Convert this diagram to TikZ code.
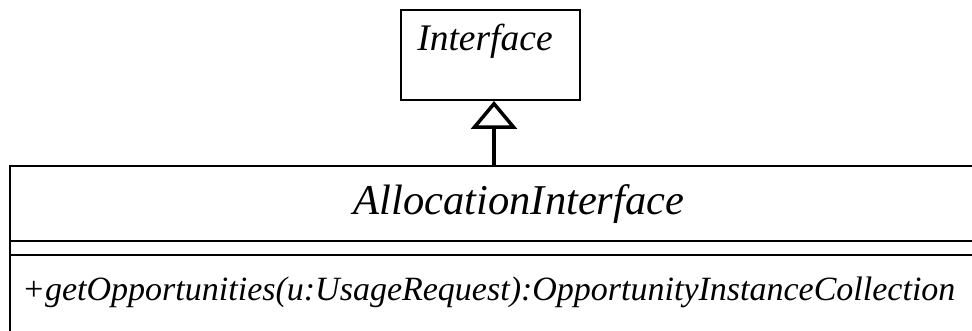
\documentclass[tikz,border=0pt]{standalone}
\usepackage{fontspec}
\setmainfont{Liberation Serif}
\usetikzlibrary{arrows.meta,positioning}

\tikzset{
  umlbox/.style={draw, line width=2pt, inner sep=0pt},
  umltext/.style={font=\itshape, inner sep=0pt, anchor=base},
  realize/.style={line width=4pt, -{Triangle[open, length=28pt, width=46pt, line width=3.5pt]}}
}

\begin{document}
\begin{tikzpicture}[x=1pt, y=1pt]
    \useasboundingbox (0,0) rectangle (972,-331);
    \clip (0,0) rectangle (972,-331);

    % Interface
    \node[umlbox, minimum width=179pt, minimum height=90pt, anchor=north west] (iface) at (400,-9) {};
    \node[umltext, font=\itshape\fontsize{37.5}{40}\selectfont] (ifacename) at (485,-51) {Interface};

    % Class box
    \node[umlbox, minimum width=1000pt, minimum height=220pt, anchor=north west] (alloc) at (9,-165) {};
    \coordinate (sepa) at (9,-241);
    \coordinate (sepb) at (9,-255);
    \draw[line width=2pt] (sepa) -- ++(980,0);
    \draw[line width=2pt] (sepb) -- ++(980,0);
    \node[umltext, font=\itshape\fontsize{42.5}{46}\selectfont] (allocname) at (519,-215) {AllocationInterface};
    \node[umltext, font=\itshape\fontsize{34}{38}\selectfont, anchor=base west] (getopp) at (22,-300)
        {+getOpportunities(u:UsageRequest):OpportunityInstanceCollection};

    % Realization
    \draw[realize] (alloc.north -| 494,0) -- (iface.south -| 494,0);
\end{tikzpicture}
\end{document}
